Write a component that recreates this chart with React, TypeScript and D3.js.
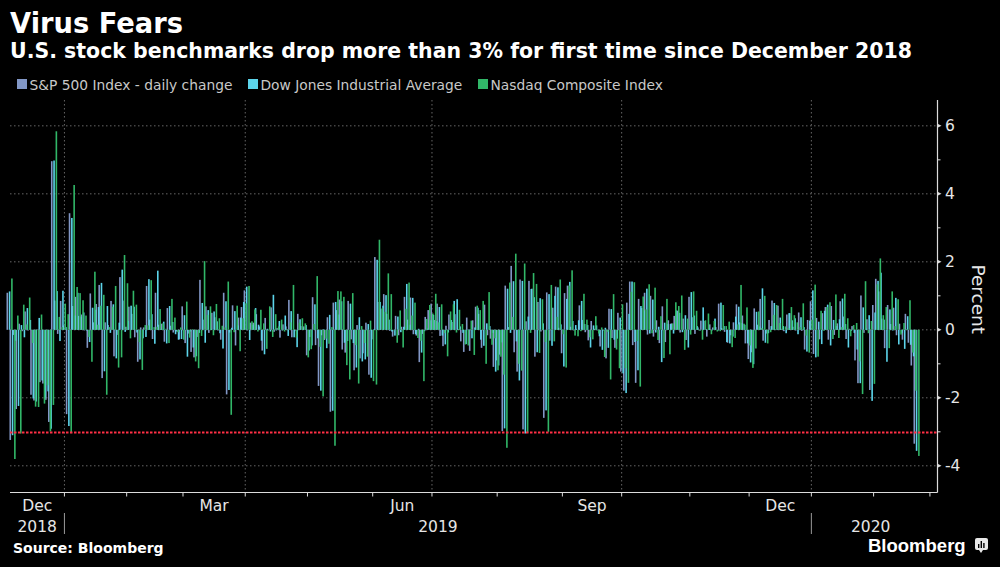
import React from 'react';
import * as d3 from 'd3';

// ---------- DATA ----------
// trading days per month: Dec 2018 ... Feb 2020 (to Feb 24)
const monthNames = ['Dec', 'Jan', 'Feb', 'Mar', 'Apr', 'May', 'Jun', 'Jul', 'Aug', 'Sep', 'Oct', 'Nov', 'Dec', 'Jan', 'Feb'];
const monthYears = [2018, 2019, 2019, 2019, 2019, 2019, 2019, 2019, 2019, 2019, 2019, 2019, 2019, 2020, 2020];
const fullMonthDays = [19, 21, 19, 21, 21, 22, 20, 22, 22, 20, 23, 20, 21, 21, 19];
const labelledMonths = ['Dec', 'Mar', 'Jun', 'Sep'];
const gridMonths = ['Jan', 'Apr', 'Jul', 'Oct'];

const spx = [
  1.09, -3.24, -0.15, -2.33, 0.18, -0.04, 0.54, -0.02, -1.91, -2.08, 0.01, -1.54, -1.58, -2.06, -2.71, 4.96, 0.86, -0.12, 0.85,
  0.13, -2.48, 3.43, 0.70, 0.97, 0.41, 0.45, -0.01, -0.53, 1.07, 0.22, 0.76, 1.32, -1.42, 0.22, 0.14, 0.85, -0.78, -0.15, 1.55, 0.86,
  0.09, 0.68, 0.47, -0.22, -0.94, 0.07, 0.07, 1.29, 0.30, -0.27, 1.09, 0.15, 0.18, -0.35, 0.64, 0.12, -0.08, -0.05, -0.28,
  0.69, -0.39, -0.11, -0.65, -0.81, -0.21, 1.47, 0.30, 0.69, -0.09, 0.50, 0.37, -0.01, -0.29, 1.09, -1.90, -0.08, 0.72, -0.46, 0.36, 0.67,
  1.16, 0.00, 0.21, 0.21, 0.46, 0.10, -0.61, 0.35, 0.00, 0.66, -0.06, 0.05, -0.23, 0.16, 0.10, 0.88, -0.22, -0.04, 0.47, 0.11, 0.10,
  -0.75, -0.21, 0.96, -0.45, -1.65, -0.16, -0.30, 0.37, -2.41, 0.80, 0.58, 0.89, -0.58, -0.67, 0.85, -0.28, -1.19, 0.14, -0.84, -0.69, 0.21, -1.32,
  -0.28, 2.14, 0.82, 0.61, 1.05, 0.47, -0.03, -0.20, 0.41, -0.16, 0.09, 0.97, 0.30, 0.95, -0.13, -0.17, -0.95, -0.12, 0.38, 0.58,
  0.77, 0.29, 0.77, -0.18, -0.48, 0.12, 0.45, 0.23, 0.46, 0.02, -0.34, -0.65, 0.36, -0.62, 0.28, 0.68, 0.47, -0.53, 0.74, -0.16, -0.26, -1.09,
  -0.90, -0.73, -2.98, 1.30, 0.08, 1.88, -0.66, -1.23, 1.48, -2.93, 0.25, 1.44, 1.21, -0.79, 0.82, -0.05, -2.59, 1.10, -0.32, 0.65, 1.27, 0.06,
  -0.69, 1.08, 1.30, 0.09, -0.01, 0.03, 0.72, 0.29, -0.07, -0.31, 0.26, 0.03, 0.00, -0.49, -0.01, -0.84, 0.62, -0.24, -0.53, 0.50,
  -1.23, -1.79, 0.80, 1.42, -0.45, -1.56, 0.91, 0.64, 1.09, -0.14, 1.00, -0.20, 0.28, -0.39, 0.69, -0.36, 0.28, 0.19, 0.41, 0.56, -0.08, 0.33, -0.30,
  0.97, 0.37, -0.12, 0.07, 0.27, 0.26, -0.20, 0.16, 0.07, 0.08, 0.77, 0.05, -0.06, -0.38, -0.16, 0.22, 0.75, 0.22, 0.42, -0.40,
  -0.86, -0.66, 0.63, 0.15, 0.91, -0.32, -0.11, 0.29, 0.86, 0.01, 0.71, 0.03, -0.04, 0.45, 0.49, 0.09, -0.02, 0.51, -0.03, -0.58, 0.29,
  0.84, -0.71, 0.35, -0.28, 0.49, 0.67, -0.29, 0.70, -0.15, 0.19, 0.84, 0.39, -0.27, 0.03, 0.11, -0.90, -1.57, 1.01, -0.09, 0.31, -1.77,
  0.73, 1.50, 1.13, 0.33, -0.54, 0.73, 0.17, 0.65, -0.16, 0.18, -0.29, 0.47, -0.38, -1.05, -3.35,
];

const dji = [
  1.13, -3.10, -0.32, -2.24, 0.14, -0.22, 0.64, 0.29, -2.02, -2.11, 0.35, -1.49, -1.99, -1.81, -2.91, 4.98, 1.14, -0.33, 1.15,
  0.08, -2.83, 3.29, 0.42, 1.09, 0.39, 0.51, -0.02, -0.36, 0.65, 0.59, 0.67, 1.38, -1.22, 0.70, -0.09, 0.75, -0.84, 0.21, 1.77, -0.06,
  0.26, 0.71, 0.68, -0.08, -0.87, -0.25, -0.21, 1.49, 0.46, -0.41, 1.74, 0.03, 0.24, -0.40, 0.70, 0.23, -0.13, -0.29, -0.27,
  0.43, -0.79, -0.05, -0.52, -0.78, -0.09, 0.79, -0.38, 0.58, 0.03, 0.54, 0.25, -0.10, -0.55, 0.84, -1.77, 0.06, 0.55, 0.13, 0.36, 0.82,
  1.27, -0.30, 0.15, 0.64, 0.15, -0.32, -0.72, 0.03, -0.05, 1.03, -0.01, 0.26, -0.01, 0.42, -0.18, 0.55, -0.22, -0.51, 0.31, 0.04, 0.14,
  -0.61, -0.46, 0.75, -0.25, -1.79, 0.01, -0.54, 0.44, -2.38, 0.82, 0.45, 0.84, -0.38, -0.33, 0.77, -0.39, -1.11, 0.37, -0.93, -0.87, 0.17, -1.41,
  0.02, 2.06, 0.82, 0.71, 1.02, 0.30, -0.05, -0.17, 0.39, -0.07, 0.09, 1.35, 0.15, 0.94, -0.13, 0.03, -0.67, -0.04, 0.04, 0.28,
  0.44, 0.26, 0.67, -0.17, -0.43, -0.08, 0.29, 0.85, 0.90, 0.10, -0.09, -0.42, 0.01, -0.25, 0.07, 0.65, -0.29, -0.47, 0.19, 0.11, -0.09, -1.23,
  -1.05, -0.37, -2.90, 1.21, -0.09, 1.43, -0.34, -1.49, 1.44, -3.05, 0.39, 1.20, 0.96, -0.66, 0.93, 0.19, -2.37, 1.05, -0.47, 1.00, 1.25, 0.16,
  -1.08, 0.91, 1.41, 0.26, 0.14, 0.28, 0.85, 0.17, 0.14, -0.52, 0.13, 0.13, -0.19, -0.59, 0.06, -0.53, 0.61, -0.29, -0.26, 0.36,
  -1.28, -1.86, 0.47, 1.42, -0.36, -1.19, 0.70, 0.57, 1.21, -0.11, 0.89, -0.08, 0.09, -0.95, 0.21, 0.17, 0.17, -0.11, 0.57, 0.50, -0.07, 0.43, -0.52,
  1.11, 0.42, 0.11, 0.00, 0.66, 0.02, 0.04, 0.00, 0.33, -0.01, 0.80, 0.11, -0.36, -0.40, -0.20, 0.39, 0.68, 0.20, 0.15, -0.40,
  -0.96, -1.01, 0.53, 0.10, 1.22, -0.38, -0.10, 0.11, 0.79, 0.01, 0.36, 0.11, -0.10, 0.49, 0.28, 0.34, -0.13, 0.37, 0.08, -0.64, 0.27,
  1.16, -0.81, 0.24, -0.42, 0.56, 0.74, -0.46, 0.29, 0.11, 0.31, 0.92, 0.17, -0.52, -0.03, -0.09, -0.58, -1.57, 0.66, 0.04, 0.43, -2.09,
  0.51, 1.44, 1.68, 0.30, -0.94, 0.60, -0.02, 0.94, -0.43, -0.09, -0.56, 0.40, -0.44, -0.78, -3.56,
];

const ccmp = [
  1.51, -3.80, 0.42, -3.05, 0.74, 0.16, 0.95, -0.39, -2.26, -2.27, 0.45, -2.17, -1.63, -2.99, -2.21, 5.84, 0.38, 0.08, 0.77,
  0.46, -3.04, 4.26, 1.26, 1.08, 0.87, 0.42, -0.21, -0.94, 1.71, 0.15, 0.71, 1.03, -1.91, 0.08, 0.68, 1.29, -1.11, -0.81, 2.20, 1.37,
  -0.25, 1.15, 0.74, -0.36, -1.18, 0.14, 0.13, 1.46, 0.08, 0.09, 0.61, 0.19, 0.03, -0.39, 0.91, 0.36, -0.07, 0.07, -0.29,
  0.83, -0.23, 0.02, -0.93, -1.13, -0.18, 2.02, 0.44, 0.69, -0.16, 0.76, 0.34, 0.12, 0.07, 1.42, -2.50, -0.07, 0.71, -0.63, 0.34, 0.78,
  1.29, 0.25, 0.60, -0.05, 0.59, 0.19, -0.56, 0.69, -0.21, 0.46, 0.10, 0.30, -0.05, 0.02, 0.22, 1.32, -0.23, 0.21, 0.34, 0.19, -0.81,
  -0.57, 0.17, 1.58, -0.50, -1.96, -0.26, -0.41, 0.08, -3.41, 1.14, 1.13, 0.97, -1.04, -1.46, 1.08, -0.45, -1.58, 0.11, -0.39, -0.79, 0.27, -1.51,
  -1.61, 2.65, 0.64, 0.53, 1.66, 1.05, -0.01, -0.38, 0.57, -0.52, 0.62, 1.39, 0.42, 0.80, -0.24, -0.32, -1.51, 0.32, 0.73, 0.48,
  1.06, 0.22, 0.75, -0.10, -0.78, 0.54, 0.75, -0.08, 0.59, 0.17, -0.43, -0.46, 0.27, -0.74, 0.71, 0.58, 0.85, -1.00, 1.11, -0.44, -0.25, -1.19,
  -0.79, -1.32, -3.47, 1.39, 0.38, 2.24, -1.00, -1.20, 1.95, -3.02, -0.09, 1.67, 1.35, -0.68, 0.90, -0.36, -3.00, 1.32, -0.34, 0.38, 1.48, -0.13,
  -1.11, 1.30, 1.75, -0.17, -0.19, -0.04, 1.06, 0.30, -0.22, -0.28, 0.40, -0.11, 0.07, -0.80, -0.06, -1.46, 1.05, -0.58, -1.13, 0.75,
  -1.13, -1.56, 1.12, 1.40, -0.33, -1.67, 0.98, 0.60, 1.34, -0.10, 1.24, -0.30, 0.40, -0.83, 0.91, -0.72, 0.19, 0.81, 0.70, 1.01, -0.59, 0.33, -0.14,
  1.13, 0.56, -0.02, -0.29, 0.28, 0.48, -0.13, 0.26, -0.05, -0.04, 0.73, 0.11, 0.24, -0.51, -0.24, 0.16, 1.32, 0.18, 0.66, -0.46,
  -1.12, -0.55, 0.54, 0.05, 1.00, -0.40, -0.07, 0.44, 0.73, 0.20, 0.91, 0.10, 0.05, 0.67, 0.43, 0.22, 0.08, 0.78, -0.17, -0.67, 0.30,
  1.33, -0.79, 0.56, -0.03, 0.67, 0.81, -0.27, 1.04, -0.24, 0.08, 1.06, 0.34, -0.19, 0.14, 0.20, -0.93, -1.89, 1.43, -0.10, 0.26, -1.59,
  1.34, 2.10, 0.43, 0.67, -0.54, 1.13, 0.11, 0.90, -0.14, 0.20, 0.02, 0.87, -0.67, -1.79, -3.71,
];

const seriesNames = ['S&P 500 Index - daily change', 'Dow Jones Industrial Average', 'Nasdaq Composite Index'];
const seriesColors = ['#8297c6', '#5cd4ea', '#31b768'];
const seriesValues = [spx, dji, ccmp];

const yMajorTicks = [-4, -2, 0, 2, 4, 6];
const yMinorTicks = [-3, -1, 1, 3, 5];
const thresholdValue = -3;

const titleText = 'Virus Fears';
const subtitleText = 'U.S. stock benchmarks drop more than 3% for first time since December 2018';
const sourceText = 'Source: Bloomberg';
const yAxisTitle = 'Percent';

// ---------- LAYOUT ----------
const W = 1000;
const H = 567;
const plotLeft = 10;
const plotRight = 937.5;
const plotTop = 100;
const plotBottom = 492.5;
const FONT = "'DejaVu Sans', Verdana, sans-serif";

export default function App() {
  const x = d3.scaleLinear().domain([0, 313]).range([9.6, 9.6 + 313 * 2.964]);
  const slot = x(1) - x(0);
  const y = d3.scaleLinear().domain([-4.8, 6.76]).range([493, 100]);
  const boundary = (i: number) => x(i) - slot / 2;

  const monthStart: number[] = [];
  let acc = 0;
  fullMonthDays.forEach((d) => {
    monthStart.push(acc);
    acc += d;
  });
  monthStart.push(acc);

  const barOffset = 0.776;
  const barW = 1.6;

  const bars: JSX.Element[] = [];
  seriesValues.forEach((vals, s) => {
    vals.forEach((v, i) => {
      const cx = x(i + (s - 1) * barOffset);
      const y0 = y(0);
      const y1 = y(v);
      bars.push(
        <rect
          key={`b${s}-${i}`}
          x={cx - barW / 2}
          y={Math.min(y0, y1)}
          width={barW}
          height={Math.max(0.6, Math.abs(y1 - y0))}
          fill={seriesColors[s]}
        />
      );
    });
  });

  const monthTicks: number[] = [];
  for (let m = 1; m < monthStart.length; m++) monthTicks.push(boundary(monthStart[m]));

  const gridX: number[] = [];
  monthNames.forEach((n, m) => {
    if (m > 0 && gridMonths.includes(n)) gridX.push(boundary(monthStart[m]));
  });

  const monthLabels: { x: number; t: string }[] = [];
  monthNames.forEach((n, m) => {
    if (labelledMonths.includes(n)) {
      const a = Math.max(plotLeft, boundary(monthStart[m]));
      const b = boundary(monthStart[m + 1]);
      monthLabels.push({ x: (a + b) / 2, t: n });
    }
  });

  const years = Array.from(new Set(monthYears));
  const yearLabels = years.map((yr) => {
    const first = monthYears.indexOf(yr);
    const last = monthYears.lastIndexOf(yr);
    const a = Math.max(plotLeft, boundary(monthStart[first]));
    const b = Math.min(plotRight, boundary(monthStart[last + 1]));
    return { x: (a + b) / 2, t: String(yr), start: a };
  });
  const yearSeparators = yearLabels.slice(1).map((l) => l.start);

  const legendX = [17, 248, 478];

  return (
    <div style={{ position: 'fixed', left: 0, top: 0, width: W, height: H, background: '#000' }}>
      <svg width={W} height={H} style={{ display: 'block', background: '#000' }}>
        <rect x={0} y={0} width={W} height={H} fill="#000" />
        <text x={10} y={33} fill="#fff" fontFamily={FONT} fontWeight="bold" fontSize={28} textLength={173} lengthAdjust="spacingAndGlyphs">
          {titleText}
        </text>
        <text x={10} y={58} fill="#fff" fontFamily={FONT} fontWeight="bold" fontSize={20.5} textLength={902} lengthAdjust="spacingAndGlyphs">
          {subtitleText}
        </text>

        {seriesNames.map((n, s) => (
          <g key={n}>
            <rect x={legendX[s]} y={79} width={10} height={10} fill={seriesColors[s]} />
            <text x={legendX[s] + 12.5} y={90} fill="#c8c8c8" fontFamily={FONT} fontSize={13.8}>
              {n}
            </text>
          </g>
        ))}

        {yMajorTicks.map((t) => (
          <line key={`gy${t}`} x1={plotLeft} x2={plotRight} y1={y(t)} y2={y(t)} stroke="#666" strokeWidth={1} strokeDasharray="1.5,2.5" />
        ))}
        {gridX.map((gx, k) => (
          <line key={`gx${k}`} x1={gx} x2={gx} y1={plotTop} y2={plotBottom} stroke="#666" strokeWidth={1} strokeDasharray="1.5,2.5" />
        ))}

        <g>{bars}</g>

        <line x1={plotLeft} x2={plotRight} y1={Math.round(y(thresholdValue)) + 0.5} y2={Math.round(y(thresholdValue)) + 0.5} stroke="#ff2f45" strokeWidth={2} strokeDasharray="2.5,1.5" />

        <line x1={plotRight} x2={plotRight} y1={plotTop} y2={plotBottom} stroke="#dcdcdc" strokeWidth={1.2} />
        {yMajorTicks.map((t) => (
          <g key={`ty${t}`}>
            <path d={`M${plotRight},${y(t) - 2}L${plotRight + 4},${y(t)}L${plotRight},${y(t) + 2}Z`} fill="#dcdcdc" />
            <text x={945} y={y(t)} dy="0.36em" fill="#e6e6e6" fontFamily={FONT} fontSize={15.5}>
              {t < 0 ? `-${Math.abs(t)}` : String(t)}
            </text>
          </g>
        ))}
        {yMinorTicks.map((t) => (
          <line key={`tm${t}`} x1={plotRight} x2={plotRight + 3} y1={y(t)} y2={y(t)} stroke="#dcdcdc" strokeWidth={1} />
        ))}
        <text
          transform={`translate(971.5, ${(y(-0.9) + y(2.7)) / 2}) rotate(90)`}
          textAnchor="middle"
          fill="#e6e6e6"
          fontFamily={FONT}
          fontSize={18.5}
        >
          {yAxisTitle}
        </text>

        <line x1={plotLeft} x2={plotRight} y1={plotBottom} y2={plotBottom} stroke="#dcdcdc" strokeWidth={1.2} />
        {monthTicks.map((tx, k) => (
          <line key={`mt${k}`} x1={tx} x2={tx} y1={plotBottom} y2={plotBottom + 4} stroke="#dcdcdc" strokeWidth={1} />
        ))}
        {monthLabels.map((l, k) => (
          <text key={`ml${k}`} x={l.x} y={511} textAnchor="middle" fill="#e6e6e6" fontFamily={FONT} fontSize={15.5}>
            {l.t}
          </text>
        ))}
        {yearLabels.map((l, k) => (
          <text key={`yl${k}`} x={l.x} y={532} textAnchor="middle" fill="#e6e6e6" fontFamily={FONT} fontSize={15.5}>
            {l.t}
          </text>
        ))}
        {yearSeparators.map((sx, k) => (
          <line key={`ys${k}`} x1={sx} x2={sx} y1={513} y2={534} stroke="#9a9a9a" strokeWidth={1} />
        ))}

        <text x={13} y={553} fill="#fff" fontFamily={FONT} fontWeight="bold" fontSize={14}>
          {sourceText}
        </text>
        <text x={868} y={552} fill="#fff" fontFamily="'Liberation Sans', Arial, sans-serif" fontWeight="bold" fontSize={18.5}>
          Bloomberg
        </text>
        <g>
          <rect x={975} y={538} width={13} height={12} rx={2} fill="#e8e8e8" />
          <path d="M979,550 L981,553 L983,550 Z" fill="#e8e8e8" />
          <rect x={978} y={544} width={1.4} height={4} fill="#000" />
          <rect x={980.6} y={541} width={1.4} height={7} fill="#000" />
          <rect x={983.2} y={543} width={1.4} height={5} fill="#000" />
        </g>
      </svg>
    </div>
  );
}
